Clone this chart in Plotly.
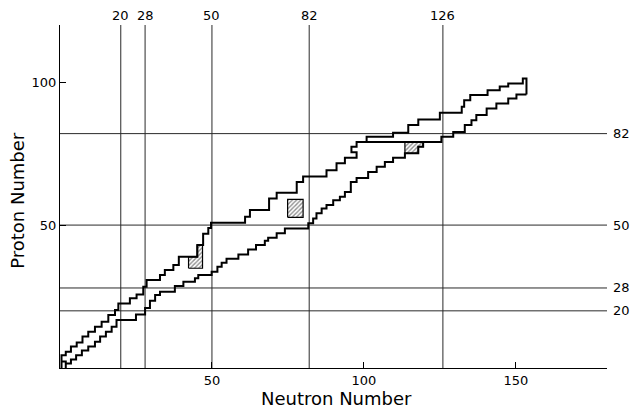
import plotly.graph_objects as go

# ---- data ----
magic_n = [20, 28, 50, 82, 126]
magic_z = [20, 28, 50, 82]

x_ticks = [50, 100, 150]
y_ticks = [50, 100]

upper_n = [0.5, 0.5, 1.9, 1.9, 3.6, 3.6, 5.5, 5.5, 7.4, 7.4, 9.3, 9.3, 11.5, 11.5, 13.7, 13.7,
           15.9, 15.9, 18.1, 18.1, 19.2, 19.2, 23, 23, 25.2, 25.2, 27.4, 27.4, 28.5, 28.5,
           32.9, 32.9, 34.5, 34.5, 37.3, 37.3, 39.1, 39.1, 45.2, 45.2, 47.1, 47.1, 48.8, 48.8,
           49.7, 49.7, 60.9, 60.9, 62.5, 62.5, 68.8, 68.8, 71.3, 71.3, 77.9, 77.9, 80, 80,
           87.7, 87.7, 91, 91, 93.75, 93.75, 97.6, 97.6, 95.9, 95.9, 97.6, 97.6, 100.9, 100.9,
           109.6, 109.6, 114.6, 114.6, 117.9, 117.9, 125, 125, 132.2, 132.2, 133, 133, 135, 135,
           140.7, 140.7, 144.7, 144.7, 147.5, 147.5, 152.3, 152.3, 153.5, 153.5]
upper_z = [0, 4.5, 4.5, 5.7, 5.7, 7.5, 7.5, 8.9, 8.9, 11, 11, 12.7, 12.7, 14.4, 14.4, 16.2,
           16.2, 18.5, 18.5, 20.3, 20.3, 22.6, 22.6, 24.4, 24.4, 25.7, 25.7, 28.4, 28.4, 30.8,
           30.8, 32.5, 32.5, 34.3, 34.3, 36, 36, 38.9, 38.9, 43, 43, 47, 47, 49,
           49, 50.8, 50.8, 52.9, 52.9, 55.3, 55.3, 59.3, 59.3, 61.3, 61.3, 65.1, 65.1, 67,
           67, 69.2, 69.2, 71.6, 71.6, 73.6, 73.6, 75.5, 75.5, 77.4, 77.4, 79.1, 79.1, 80.9,
           80.9, 82.3, 82.3, 85, 85, 86.9, 86.9, 89.3, 89.3, 91.4, 91.4, 93.7, 93.7, 95.5,
           95.5, 97.2, 97.2, 98.5, 98.5, 99.5, 99.5, 101.3, 101.3, 95.7]

lower_n = [0.5, 1.9, 1.9, 1.9, 3.6, 3.6, 5.3, 5.3, 7.2, 7.2, 9.3, 9.3, 11.5, 11.5, 13.2, 13.2,
           15.1, 15.1, 17, 17, 18.6, 18.6, 25, 25, 28, 28, 29.6, 29.6, 31.3, 31.3, 32.9, 32.9,
           37.8, 37.8, 40.6, 40.6, 44.4, 44.4, 45.5, 45.5, 49.9, 49.9, 51.8, 51.8, 53.2, 53.2,
           54.8, 54.8, 58.7, 58.7, 61.9, 61.9, 64.5, 64.5, 67.4, 67.4, 68.5, 68.5, 71.3, 71.3,
           74, 74, 81.7, 81.7, 83.3, 83.3, 84.4, 84.4, 86.1, 86.1, 87.7, 87.7, 89.9, 89.9,
           92.1, 92.1, 93.75, 93.75, 95.7, 95.7, 97.6, 97.6, 101.4, 101.4, 104.2, 104.2,
           106.9, 106.9, 109.6, 109.6, 113.5, 113.5, 117.9, 117.9, 119.5, 119.5, 125.5, 125.5,
           129.4, 129.4, 133.2, 133.2, 135.4, 135.4, 137, 137, 140.4, 140.4, 143.6, 143.6,
           147.5, 147.5, 150.2, 150.2, 153.5]
lower_z = [2.3, 2.3, 0, 1.6, 1.6, 3, 3, 4.5, 4.5, 6.1, 6.1, 7.5, 7.5, 9.2, 9.2, 11,
           11, 12.7, 12.7, 14.4, 14.4, 16.8, 16.8, 18.7, 18.7, 21, 21, 23.5, 23.5, 25.5, 25.5, 26.7,
           26.7, 28.7, 28.7, 30.2, 30.2, 31.4, 31.4, 32.5, 32.5, 33.7, 33.7, 35.4, 35.4, 36.8,
           36.8, 38.2, 38.2, 39.7, 39.7, 41.5, 41.5, 43, 43, 44.5, 44.5, 45.6, 45.6, 47.1,
           47.1, 48.8, 48.8, 50.6, 50.6, 52.3, 52.3, 54.1, 54.1, 55.8, 55.8, 57, 57, 58.7,
           58.7, 59.9, 59.9, 61.6, 61.6, 65.1, 65.1, 66.5, 66.5, 68.6, 68.6, 70.4,
           70.4, 72.1, 72.1, 73.6, 73.6, 75.1, 75.1, 77.4, 77.4, 79.1, 79.1, 80.9,
           80.9, 82.6, 82.6, 85, 85, 86.7, 86.7, 88.5, 88.5, 90.8, 90.8, 92.5,
           92.5, 94.3, 94.3, 95.7, 95.7]

divider_n = [100.9, 119.5]
divider_z = [79.1, 79.1]

hatch_a_n = [42.3, 46.9, 46.9, 45.1, 45.1, 42.3, 42.3]
hatch_a_z = [34.9, 34.9, 43, 43, 38.9, 38.9, 34.9]
hatch_b_n = [74.9, 80.0, 80.0, 74.9, 74.9]
hatch_b_z = [52.7, 52.7, 59.0, 59.0, 52.7]
hatch_c_n = [113.5, 117.9, 117.9, 119.5, 119.5, 113.5, 113.5]
hatch_c_z = [75.1, 75.1, 77.4, 77.4, 79.1, 79.1, 75.1]

X_MAX, Y_MAX = 180, 120

FONT = "DejaVu Sans"
fig = go.Figure()

# magic-number grid lines
for n in magic_n:
    fig.add_trace(go.Scatter(x=[n, n], y=[0, Y_MAX], mode="lines",
                             line=dict(color="#2a2a2a", width=1), hoverinfo="skip"))
for z in magic_z:
    fig.add_trace(go.Scatter(x=[0, X_MAX], y=[z, z], mode="lines",
                             line=dict(color="#2a2a2a", width=1), hoverinfo="skip"))

# hatched regions
for hn, hz in [(hatch_a_n, hatch_a_z), (hatch_b_n, hatch_b_z), (hatch_c_n, hatch_c_z)]:
    fig.add_trace(go.Scatter(x=hn, y=hz, mode="lines", fill="toself",
                             fillcolor="white",
                             fillpattern=dict(shape="/", size=3, solidity=0.45,
                                              fgcolor="#222222", bgcolor="white"),
                             line=dict(color="black", width=1.2), hoverinfo="skip"))

# stability boundaries
for xs, ys in [(upper_n, upper_z), (lower_n, lower_z), (divider_n, divider_z)]:
    fig.add_trace(go.Scatter(x=xs, y=ys, mode="lines",
                             line=dict(color="black", width=2), hoverinfo="skip"))

annotations = []
for n in magic_n:
    annotations.append(dict(x=n, y=1.027, xref="x", yref="paper", text=str(n),
                            showarrow=False, xanchor="center", yanchor="middle",
                            font=dict(family=FONT, size=13, color="black")))
for z in magic_z:
    annotations.append(dict(x=1.008, y=z, xref="paper", yref="y", text=str(z),
                            showarrow=False, xanchor="left", yanchor="middle",
                            font=dict(family=FONT, size=13, color="black")))
annotations.append(dict(x=0.506, y=-0.088, xref="paper", yref="paper", text="Neutron Number",
                        showarrow=False, xanchor="center", yanchor="middle",
                        font=dict(family=FONT, size=18, color="black")))
annotations.append(dict(x=-0.077, y=0.49, xref="paper", yref="paper", text="Proton Number",
                        showarrow=False, xanchor="center", yanchor="middle", textangle=-90,
                        font=dict(family=FONT, size=18, color="black")))

fig.update_layout(
    width=631, height=412,
    margin=dict(l=60, r=24, t=25, b=44),
    paper_bgcolor="white", plot_bgcolor="white",
    showlegend=False,
    annotations=annotations,
    xaxis=dict(range=[0, X_MAX], showgrid=False, zeroline=False,
               showline=True, linecolor="black", linewidth=1,
               tickvals=x_ticks, ticktext=[str(v) for v in x_ticks],
               ticks="inside", ticklen=6, tickcolor="black",
               tickfont=dict(family=FONT, size=13, color="black")),
    yaxis=dict(range=[0, Y_MAX], showgrid=False, zeroline=False,
               showline=True, linecolor="black", linewidth=1,
               tickvals=y_ticks, ticktext=[str(v) for v in y_ticks],
               ticks="inside", ticklen=6, tickcolor="black",
               tickfont=dict(family=FONT, size=13, color="black")),
)

fig.write_html("out.html",
               config={"displayModeBar": False},
               post_script="document.body.style.margin='0px';document.body.style.overflow='hidden';")
